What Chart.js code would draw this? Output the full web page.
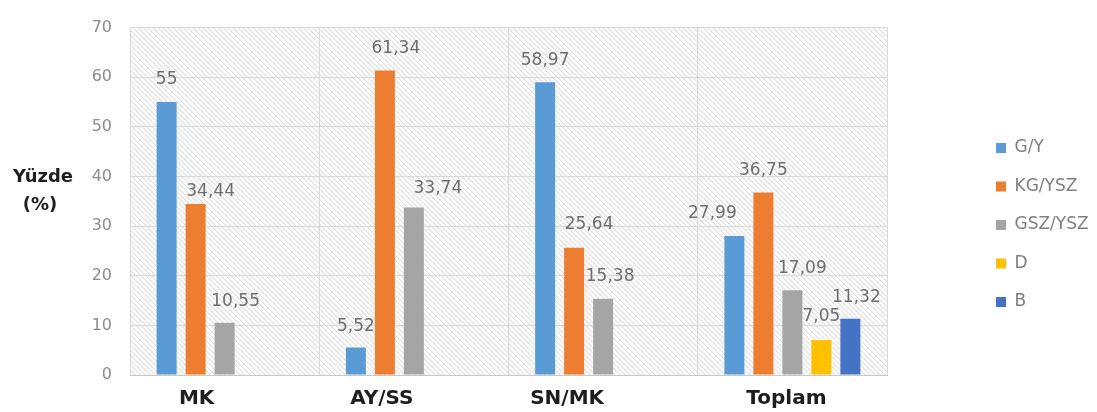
<!DOCTYPE html>
<html>
<head>
<meta charset="utf-8">
<script src="https://cdn.jsdelivr.net/npm/chart.js@4.4.1/dist/chart.umd.min.js"></script>
<style>
  html, body { margin: 0; padding: 0; background: #ffffff; }
  #wrap { position: relative; width: 1097px; height: 412px; }
</style>
</head>
<body>
<div id="wrap"><canvas id="c"></canvas></div>
<script>
// ---- data ----
const categories = ["MK", "AY/SS", "SN/MK", "Toplam"];
const seriesNames = ["G/Y", "KG/YSZ", "GSZ/YSZ", "D", "B"];
const gY     = [55, 5.52, 58.97, 27.99];
const kgYSZ  = [34.44, 61.34, 25.64, 36.75];
const gszYSZ = [10.55, 33.74, 15.38, 17.09];
const dVals  = [null, null, null, 7.05];
const bVals  = [null, null, null, 11.32];
const yTicks = { min: 0, max: 70, step: 10 };

// ---- styles ----
const colors = ["#5B9BD5", "#ED7D31", "#A5A5A5", "#FFC000", "#4472C4"];
const FONT = "'DejaVu Sans', sans-serif";
// label nudges [dx, dy] relative to the top centre of each bar
const labelNudge = [
  [[0,-22],[0,-21],[0,-22],[-22,-23]],
  [[15,-13],[11,-22],[15,-23],[0,-22]],
  [[11,-21],[24,-19],[7,-22],[10,-22]],
  [null,null,null,[0,-23]],
  [null,null,null,[6,-21]]
];
const xLabelNudge = [-28, -32, -36, -6];

const seriesValues = [gY, kgYSZ, gszYSZ, dVals, bVals];

const decor = {
  id: 'decor',
  beforeLayout(chart) {
    if (chart.legend && !chart.legend._wfit) {
      const orig = chart.legend.fit;
      chart.legend.fit = function () { orig.call(this); this.width = 122.5; };
      chart.legend._wfit = true;
    }
  },
  beforeDraw(chart) {
    // light diagonal hatch behind the plot area
    const { ctx, chartArea: a } = chart;
    ctx.save();
    const s = 5;
    const pc = document.createElement('canvas');
    pc.width = s; pc.height = s;
    const p = pc.getContext('2d');
    p.fillStyle = '#ffffff'; p.fillRect(0, 0, s, s);
    p.fillStyle = '#dddddd';
    for (let i = 0; i < s; i++) p.fillRect(i, i, 1, 1);
    p.fillStyle = '#f0f0f0';
    for (let i = 0; i < s; i++) p.fillRect((i + 1) % s, i, 1, 1);
    ctx.fillStyle = ctx.createPattern(pc, 'repeat');
    ctx.fillRect(a.left, a.top, a.right - a.left, a.bottom - a.top);
    ctx.restore();
  },
  afterDatasetsDraw(chart) {
    const { ctx } = chart;
    ctx.save();
    ctx.font = "17px " + FONT;
    ctx.fillStyle = '#6e6e6e';
    ctx.textAlign = 'center';
    ctx.textBaseline = 'middle';
    chart.data.datasets.forEach((ds, di) => {
      const meta = chart.getDatasetMeta(di);
      meta.data.forEach((el, i) => {
        const v = ds.data[i];
        if (v === null || v === undefined) return;
        const n = (labelNudge[di] && labelNudge[di][i]) || [0, -22];
        ctx.fillText(String(v).replace('.', ','), el.x + n[0], el.y + n[1]);
      });
    });
    ctx.restore();
  },
  afterDraw(chart) {
    const { ctx, chartArea: a } = chart;
    const xs = chart.scales.x;
    ctx.save();
    ctx.fillStyle = '#1e1e1e';
    ctx.textAlign = 'center';
    ctx.textBaseline = 'middle';
    ctx.font = "bold 20px " + FONT;
    categories.forEach((c, i) => {
      ctx.fillText(c, xs.getPixelForValue(i) + xLabelNudge[i], a.bottom + 24);
    });
    // y axis title (horizontal, two lines)
    const mid = (a.top + a.bottom) / 2;
    ctx.font = "bold 18px " + FONT;
    ctx.textBaseline = 'alphabetic';
    ctx.fillText("Yüzde", a.left - 87, mid - 19);
    ctx.fillText("(%)", a.left - 90, mid + 9);
    ctx.restore();
  }
};

new Chart(document.getElementById('c'), {
  type: 'bar',
  data: {
    labels: categories,
    datasets: seriesNames.map((name, i) => ({
      label: name,
      data: seriesValues[i],
      backgroundColor: colors[i],
      borderWidth: 0,
      categoryPercentage: 0.766,
      barPercentage: 0.69
    }))
  },
  options: {
    responsive: true,
    maintainAspectRatio: false,
    animation: false,
    layout: { padding: { top: 17, right: 0, bottom: 0, left: 0 } },
    plugins: {
      tooltip: { enabled: false },
      legend: {
        position: 'right',
        align: 'center',
        title: { display: true, text: '', color: 'rgba(0,0,0,0)', font: { size: 10, lineHeight: 1 }, padding: { top: 11, bottom: 0 } },
        labels: {
          boxWidth: 10,
          boxHeight: 10,
          padding: 21.5,
          color: '#7f7f7f',
          font: { family: FONT, size: 17 }
        }
      }
    },
    scales: {
      x: {
        type: 'category',
        grid: { color: '#d9d9d9', lineWidth: 1, drawTicks: false, offset: true },
        border: { display: true, color: '#c8c8c8' },
        ticks: { display: false },
        afterFit(s) { s.height = 37; }
      },
      y: {
        min: yTicks.min,
        max: yTicks.max,
        grid: { color: '#d9d9d9', lineWidth: 1, drawTicks: false },
        border: { display: false },
        ticks: {
          stepSize: yTicks.step,
          padding: 18,
          color: '#8c8c8c',
          font: { family: FONT, size: 16 }
        },
        afterFit(s) { s.width = 130; }
      },
      gap: {
        type: 'linear',
        position: 'right',
        display: true,
        grid: { display: false, drawOnChartArea: false },
        border: { display: false },
        ticks: { display: false },
        afterFit(s) { s.width = 87.5; }
      }
    }
  },
  plugins: [decor]
});
</script>
</body>
</html>
